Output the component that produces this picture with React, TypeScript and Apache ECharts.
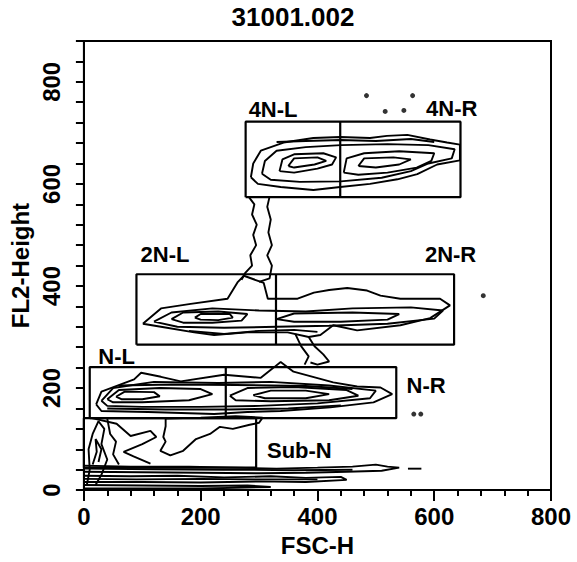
import React, { useEffect, useRef } from "react";
import * as echarts from "echarts";

const TITLE = "31001.002";
const X_NAME = "FSC-H";
const Y_NAME = "FL2-Height";
const X_MIN = 0;
const X_MAX = 800;
const Y_MIN = 0;
const Y_MAX = 880;
const TICK_LABELS = [0, 200, 400, 600, 800];

// gates: [x0, xDivider (or null), x1, y0, y1]
const GATE_4N = [277, 439, 645, 574, 722];
const GATE_2N = [90, 329, 634, 285, 423];
const GATE_N = [10, 243, 535, 141, 241];
const GATE_SUBN = [0, null, 295, 44, 141];

const GATE_LABELS = [
  { text: "4N-L", x: 324, y: 746 },
  { text: "4N-R", x: 630, y: 748 },
  { text: "2N-L", x: 139, y: 462 },
  { text: "2N-R", x: 628, y: 462 },
  { text: "N-L", x: 56, y: 261 },
  { text: "N-R", x: 586, y: 205 },
  { text: "Sub-N", x: 369, y: 77 },
];

// contour lines (FSC-H, FL2-Height)
const C4N_OUTER = [[286,613],[290,640],[303,665],[342,681],[393,690],[439,692],[490,690],[519,694],[554,696],[593,687],[622,681],[644,677],[644,646],[605,638],[571,619],[537,609],[490,600],[439,594],[393,588],[337,594],[298,600],[286,613]];
const C4N_2 = [[305,620],[310,645],[330,665],[380,672],[440,676],[520,678],[590,676],[635,668],[630,650],[590,640],[560,625],[510,612],[440,605],[370,604],[320,608],[305,620]];
const C4N_3L = [[335,625],[340,648],[360,658],[410,660],[432,652],[425,638],[400,630],[360,622],[335,625]];
const C4N_3R = [[445,622],[450,650],[480,660],[540,664],[600,660],[595,645],[570,632],[520,622],[470,618],[445,622]];
const C4N_4L = [[350,635],[360,650],[400,652],[415,645],[395,638],[360,632],[350,635]];
const C4N_4R = [[470,635],[480,650],[530,652],[560,648],[540,638],[500,632],[470,635]];
const C4N_TOP = [[330,682],[380,684],[440,686],[500,684],[560,688],[600,682]];
const STREAK_A = [[282,575],[292,560],[288,540],[296,520],[290,500],[295,480],[285,460],[288,440],[276,425],[270,412]];
const STREAK_B = [[318,575],[314,555],[320,530],[316,505],[322,480],[314,460],[322,440],[318,415],[300,408]];
const C2N_OUTER = [[101,326],[132,356],[183,365],[246,375],[263,407],[274,420],[308,406],[315,375],[366,375],[394,387],[420,392],[451,396],[485,391],[508,381],[542,375],[610,375],[627,362],[593,337],[542,323],[468,313],[427,323],[405,304],[385,300],[349,309],[280,309],[223,304],[189,309],[137,319],[101,326]];
const C2N_2 = [[120,330],[150,348],[220,356],[300,352],[380,350],[460,356],[560,358],[615,352],[600,336],[520,326],[420,322],[330,320],[240,318],[160,320],[120,330]];
const C2N_3L = [[150,335],[170,348],[230,350],[280,345],[270,332],[220,328],[170,328],[150,335]];
const C2N_3R = [[330,335],[360,346],[460,348],[540,345],[520,334],[440,330],[360,330],[330,335]];
const C2N_4 = [[190,338],[200,345],[250,345],[255,338],[230,333],[200,334],[190,338]];
const C2N_LOW = [[180,312],[240,306],[300,312],[360,314],[400,310]];
const BRIDGE_A = [[385,300],[395,282],[410,266],[420,252],[400,246],[388,250]];
const BRIDGE_B = [[362,306],[372,282],[385,262],[378,246]];
const CN_OUTER = [[21,168],[30,193],[86,217],[98,230],[132,222],[166,213],[240,226],[303,220],[325,240],[337,251],[359,232],[427,211],[468,203],[508,201],[528,188],[496,172],[422,162],[337,155],[280,153],[223,149],[110,153],[30,155],[21,168]];
const CN_2 = [[30,175],[50,200],[120,212],[230,210],[320,212],[420,205],[500,195],[490,180],[400,170],[300,165],[200,163],[100,163],[40,165],[30,175]];
const CN_3L = [[40,178],[60,196],[130,200],[200,198],[220,188],[180,176],[100,172],[50,172],[40,178]];
const CN_3R = [[250,185],[280,200],[360,202],[450,196],[470,185],[420,176],[320,174],[260,176],[250,185]];
const CN_4L = [[55,183],[70,193],[120,192],[130,184],[100,178],[65,178],[55,183]];
const CN_4R = [[290,186],[320,195],[380,195],[420,188],[380,180],[310,180],[290,186]];
const CN_LINE_1 = [[60,205],[150,207],[260,206],[380,204],[460,198]];
const CN_LINE_2 = [[40,160],[140,158],[250,158],[350,160],[440,166]];
const DEBRIS_1 = [[10,142],[56,130],[80,106],[114,116],[124,104],[100,90],[68,75],[85,66],[114,52]];
const DEBRIS_2 = [[140,140],[200,142],[260,145],[306,142],[300,132],[284,128],[255,120],[233,124],[216,110],[192,100],[170,77],[148,68],[131,77],[140,95],[136,104],[140,125],[140,140]];
const LEFT_1 = [[5,10],[10,40],[8,80],[15,110],[25,135],[35,120],[30,90],[40,60],[30,30],[20,10]];
const LEFT_2 = [[15,50],[22,75],[20,100],[30,80],[25,55]];
const LEFT_3 = [[40,140],[45,110],[55,95],[50,70],[60,50]];
const BAND_1 = [[0,48],[80,46],[180,46],[260,44],[330,42],[400,44],[460,46],[500,50],[520,46],[540,44],[510,38],[450,36],[380,34],[300,33],[200,34],[100,35],[0,36]];
const BAND_1B = [[0,42],[120,41],[240,40],[360,39],[460,40]];
const BAND_DASH = [[555,42],[578,42]];
const BAND_2 = [[0,28],[80,27],[160,28],[240,25],[320,27],[380,24],[440,26],[450,20],[380,16],[300,17],[200,15],[100,16],[0,16]];
const BAND_2B = [[0,22],[90,21],[200,22],[300,21],[400,21]];
const BAND_3 = [[0,10],[100,9],[200,8],[280,9],[320,6],[200,3],[100,3],[0,3]];

const CONTOURS = [
  C4N_OUTER, C4N_2, C4N_3L, C4N_3R, C4N_4L, C4N_4R, C4N_TOP, STREAK_A, STREAK_B,
  C2N_OUTER, C2N_2, C2N_3L, C2N_3R, C2N_4, C2N_LOW, BRIDGE_A, BRIDGE_B,
  CN_OUTER, CN_2, CN_3L, CN_3R, CN_4L, CN_4R, CN_LINE_1, CN_LINE_2,
  DEBRIS_1, DEBRIS_2, LEFT_1, LEFT_2, LEFT_3,
  BAND_1, BAND_1B, BAND_DASH, BAND_2, BAND_2B, BAND_3,
];

const DOTS = [[484,773],[563,773],[516,742],[548,744],[684,381],[565,149],[577,149]];

const FONT = "'Liberation Sans', Arial, sans-serif";

function gatePaths(g: (number | null)[]) {
  const [x0, xm, x1, y0, y1] = g as number[];
  const paths: number[][][] = [
    [[x0, y0], [x1, y0], [x1, y1], [x0, y1], [x0, y0]],
  ];
  if (g[1] !== null) paths.push([[xm, y0], [xm, y1]]);
  return paths;
}

export default function App() {
  const ref = useRef<HTMLDivElement>(null);
  useEffect(() => {
    if (!ref.current) return;
    const chart = echarts.init(ref.current, undefined, { renderer: "svg" });
    const lineSeries = (data: number[][], width: number) => ({
      type: "line",
      data,
      symbol: "none",
      showSymbol: false,
      silent: true,
      animation: false,
      lineStyle: { color: "#000", width },
      z: 3,
    });
    const series: any[] = [];
    CONTOURS.forEach((c) => series.push(lineSeries(c, 1.9)));
    [GATE_4N, GATE_2N, GATE_N, GATE_SUBN].forEach((g) =>
      gatePaths(g).forEach((p) => series.push(lineSeries(p, 2.2)))
    );
    series.push({
      type: "scatter",
      data: DOTS,
      symbolSize: 5,
      itemStyle: { color: "#000" },
      silent: true,
    });
    series.push({
      type: "scatter",
      data: GATE_LABELS.map((l) => ({ value: [l.x, l.y], name: l.text })),
      symbol: "circle",
      symbolSize: 0.5,
      itemStyle: { color: "#fff" },
      silent: true,
      label: {
        show: true,
        position: "inside",
        formatter: "{b}",
        color: "#000",
        opacity: 1,
        textBorderWidth: 0,
        fontSize: 22,
        fontWeight: "bold",
        fontFamily: FONT,
      },
      z: 5,
    });

    chart.setOption({
      animation: false,
      backgroundColor: "#fff",
      graphic: [
        {
          type: "text",
          x: 293,
          y: 4,
          style: {
            text: TITLE,
            fill: "#000",
            font: `bold 26px ${FONT}`,
            textAlign: "center",
            textVerticalAlign: "top",
          },
        },
      ],
      grid: {
        left: 80,
        right: 26,
        top: 41,
        bottom: 65,
        show: true,
        borderColor: "#000",
        borderWidth: 2,
        backgroundColor: "transparent",
      },
      xAxis: {
        type: "value",
        min: X_MIN,
        max: X_MAX,
        interval: 200,
        name: X_NAME,
        nameLocation: "middle",
        nameGap: 40,
        nameTextStyle: { color: "#000", fontSize: 24, fontFamily: FONT, fontWeight: "bold" },
        splitLine: { show: false },
        axisLine: { show: true, lineStyle: { color: "#000", width: 2 } },
        axisTick: { show: true, inside: false, length: 11, lineStyle: { color: "#000", width: 2 } },
        minorTick: { show: true, splitNumber: 5, length: 6, lineStyle: { color: "#000", width: 2 } },
        axisLabel: {
          color: "#000",
          fontSize: 24,
          fontFamily: FONT,
          fontWeight: "bold",
          margin: 14,
          formatter: (v: number) => (TICK_LABELS.includes(v) ? String(v) : ""),
        },
      },
      yAxis: {
        type: "value",
        min: Y_MIN,
        max: Y_MAX,
        interval: 40,
        name: Y_NAME,
        nameLocation: "middle",
        nameGap: 46,
        nameRotate: 90,
        nameTextStyle: { color: "#000", fontSize: 24, fontFamily: FONT, fontWeight: "bold" },
        splitLine: { show: false },
        axisLine: { show: true, lineStyle: { color: "#000", width: 2 } },
        axisTick: { show: true, inside: false, length: 8, lineStyle: { color: "#000", width: 2 } },
        axisLabel: {
          color: "#000",
          fontSize: 24,
          fontFamily: FONT,
          fontWeight: "bold",
          rotate: 90,
          margin: 20,
          formatter: (v: number) => (TICK_LABELS.includes(v) ? String(v) : ""),
        },
      },
      series,
    });
    return () => chart.dispose();
  }, []);
  return (
    <div
      ref={ref}
      style={{ position: "fixed", left: 0, top: 0, width: 577, height: 562 }}
    />
  );
}
